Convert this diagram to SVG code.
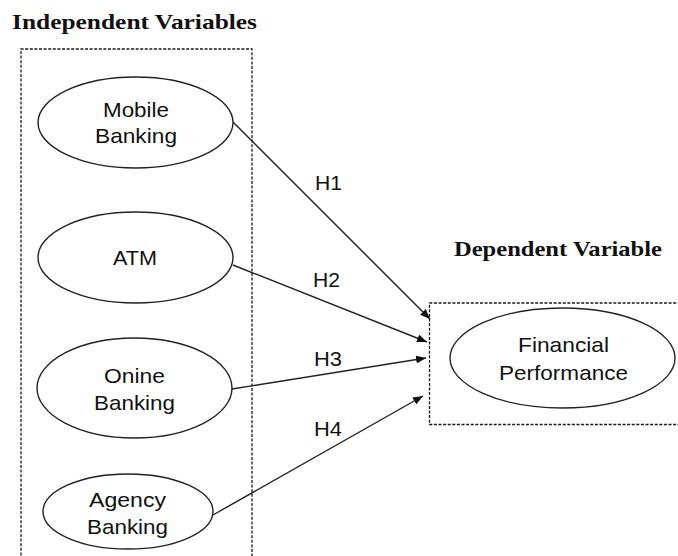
<svg xmlns="http://www.w3.org/2000/svg" width="678" height="556" viewBox="0 0 678 556">
  <style>
    .title { font-family: "Liberation Serif", "Times New Roman", serif; font-weight: bold; font-size: 22px; fill: #111; }
    .lbl { font-family: "Liberation Sans", Arial, sans-serif; font-size: 21px; fill: #111; }
    .node { fill: #fff; stroke: #222; stroke-width: 1.4; }
    .frame { fill: none; stroke: #1a1a1a; stroke-width: 1.3; stroke-dasharray: 3 1.6; }
    .edge { fill: none; stroke: #222; stroke-width: 1.4; marker-end: url(#arrow); }
  </style>
  <defs>
    <marker id="arrow" markerUnits="userSpaceOnUse" markerWidth="10" markerHeight="8" refX="10" refY="4" orient="auto">
      <path d="M0,0 L10,4 L0,8 Z" fill="#111"/>
    </marker>
  </defs>
  <rect width="678" height="556" fill="#fff"/>

  <!-- group frames and headings -->
  <g id="independent-frame">
    <text class="title" x="12" y="29" textLength="245" lengthAdjust="spacingAndGlyphs">Independent Variables</text>
    <path class="frame" d="M21,560 V49 H252 V560"/>
  </g>
  <g id="dependent-frame">
    <text class="title" x="454" y="256" textLength="208" lengthAdjust="spacingAndGlyphs">Dependent Variable</text>
    <path class="frame" d="M690,303 H429.5 V424.5 H690"/>
  </g>

  <!-- connectors -->
  <g id="connectors">
    <line class="edge" x1="233" y1="122" x2="430" y2="319"/>
    <line class="edge" x1="233" y1="265" x2="427" y2="342"/>
    <line class="edge" x1="232" y1="389" x2="426" y2="358"/>
    <line class="edge" x1="213" y1="515" x2="423" y2="396"/>
    <text class="lbl" x="315" y="190" textLength="27" lengthAdjust="spacingAndGlyphs">H1</text>
    <text class="lbl" x="313" y="287" textLength="27" lengthAdjust="spacingAndGlyphs">H2</text>
    <text class="lbl" x="314" y="366" textLength="28" lengthAdjust="spacingAndGlyphs">H3</text>
    <text class="lbl" x="314" y="436" textLength="28" lengthAdjust="spacingAndGlyphs">H4</text>
  </g>

  <!-- nodes -->
  <g id="mobile-banking">
    <ellipse class="node" cx="135.5" cy="122.5" rx="97.5" ry="45.5"/>
    <text class="lbl" x="103" y="117" textLength="66" lengthAdjust="spacingAndGlyphs">Mobile</text>
    <text class="lbl" x="95" y="143" textLength="82" lengthAdjust="spacingAndGlyphs">Banking</text>
  </g>
  <g id="atm">
    <ellipse class="node" cx="135.5" cy="257.5" rx="97.5" ry="45.5"/>
    <text class="lbl" x="113" y="265" textLength="44" lengthAdjust="spacingAndGlyphs">ATM</text>
  </g>
  <g id="online-banking">
    <ellipse class="node" cx="134.5" cy="388" rx="97.5" ry="50"/>
    <text class="lbl" x="104" y="383" textLength="61" lengthAdjust="spacingAndGlyphs">Onine</text>
    <text class="lbl" x="94" y="410" textLength="81" lengthAdjust="spacingAndGlyphs">Banking</text>
  </g>
  <g id="agency-banking">
    <ellipse class="node" cx="128" cy="511.5" rx="85" ry="37.5"/>
    <text class="lbl" x="89" y="507" textLength="77" lengthAdjust="spacingAndGlyphs">Agency</text>
    <text class="lbl" x="87" y="534" textLength="81" lengthAdjust="spacingAndGlyphs">Banking</text>
  </g>
  <g id="financial-performance">
    <ellipse class="node" cx="562.5" cy="358" rx="112.5" ry="50"/>
    <text class="lbl" x="518" y="352" textLength="91" lengthAdjust="spacingAndGlyphs">Financial</text>
    <text class="lbl" x="499" y="380" textLength="129" lengthAdjust="spacingAndGlyphs">Performance</text>
  </g>
</svg>
